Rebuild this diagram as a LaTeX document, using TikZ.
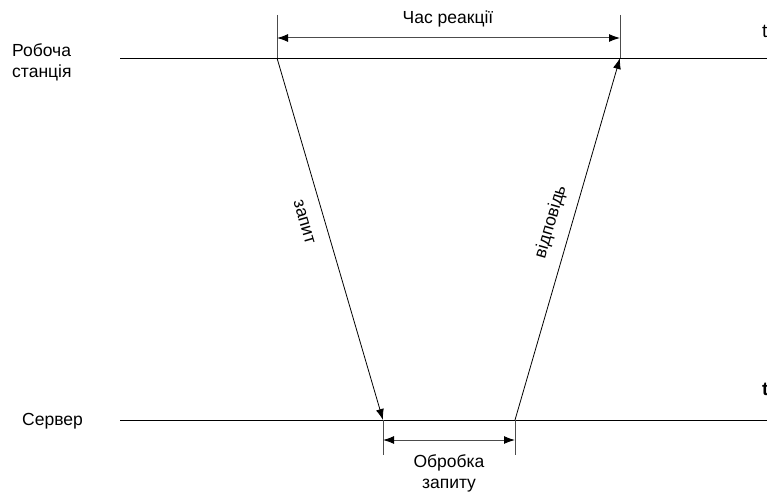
\documentclass[tikz,border=0pt]{standalone}
\usepackage{fontspec}
\setmainfont{Liberation Sans}
\usetikzlibrary{arrows.meta}
\begin{document}
\begin{tikzpicture}[x=1pt,y=-1pt,
  lbl/.style={inner sep=0pt,font=\fontsize{17.5}{21}\selectfont},
  axis/.style={line width=0.8pt,black},
  tick/.style={line width=0.8pt,black!70},
  msg/.style={line width=0.8pt,black,-{Latex[length=11pt,width=8pt]}},
  span/.style={line width=1pt,black!70,{Latex[length=11pt,width=8pt,black]}-{Latex[length=11pt,width=8pt,black]}}]
\useasboundingbox (0,0) rectangle (767,492);
% time lines
\coordinate (wsL) at (120,58);
\coordinate (wsR) at (767,58);
\coordinate (svL) at (120,420);
\coordinate (svR) at (767,420);
\draw[axis] (wsL) -- (wsR);
\draw[axis] (svL) -- (svR);
% event points
\coordinate (req0) at (277,58);
\coordinate (req1) at (383,420);
\coordinate (rsp0) at (515,420);
\coordinate (rsp1) at (620,58);
% ticks
\coordinate (t1) at (277,15);
\coordinate (t2) at (620,15);
\coordinate (t3) at (383,455);
\coordinate (t4) at (515,455);
\draw[tick] (t1) -- (req0);
\draw[tick] (t2) -- (rsp1);
\draw[tick] (req1) -- (t3);
\draw[tick] (rsp0) -- (t4);
% spans
\coordinate (a1) at (277,38);
\coordinate (a2) at (620,38);
\coordinate (b1) at (383,440);
\coordinate (b2) at (515,440);
\draw[span] (a1) -- (a2);
\draw[span] (b1) -- (b2);
% messages
\draw[msg] (req0) -- (req1);
\draw[msg] (rsp0) -- (rsp1);
% labels
\node[lbl] (reac) at (448,19) {Час реакції};
\node[lbl,align=left,anchor=west] (ws) at (12,62) {Робоча\\станція};
\node[lbl,anchor=west] (sv) at (22,421) {Сервер};
\node[lbl,align=center] (proc) at (449,473) {Обробка\\запиту};
\node[lbl,rotate=-73.7] (q) at (304,222) {запит};
\node[lbl,rotate=73.7] (r) at (551,222) {відповідь};
\node[lbl,anchor=west,font=\fontsize{19}{20}\selectfont] (tt) at (762,31) {t};
\node[lbl,anchor=west,font=\bfseries\fontsize{19}{20}\selectfont] (tb) at (762,389) {t};
\end{tikzpicture}
\end{document}
